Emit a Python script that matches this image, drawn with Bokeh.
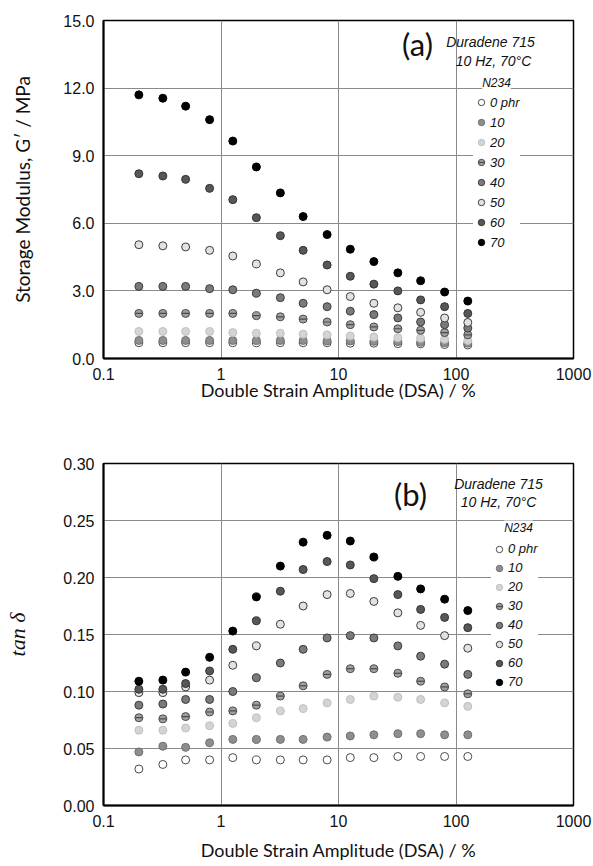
from bokeh.plotting import figure
from bokeh.layouts import column
from bokeh.models import (Range1d, FixedTicker, CustomJSTickFormatter, NumeralTickFormatter,
                          Legend, LegendItem, Label)
from bokeh.embed import file_html
from bokeh.resources import INLINE

# ---------------- data ----------------
strain = [0.2, 0.32, 0.5, 0.8, 1.26, 2.0, 3.2, 5.0, 8.0, 12.6, 20, 32, 50, 80, 126]
phr_labels = ["0 phr", "10", "20", "30", "40", "50", "60", "70"]

# Storage modulus G' (MPa), panel (a)
g_0 = [0.70, 0.70, 0.70, 0.70, 0.70, 0.70, 0.70, 0.70, 0.70, 0.68, 0.68, 0.66, 0.65, 0.62, 0.60]
g_10 = [0.80, 0.80, 0.80, 0.80, 0.80, 0.80, 0.80, 0.80, 0.78, 0.78, 0.76, 0.75, 0.72, 0.70, 0.68]
g_20 = [1.20, 1.20, 1.20, 1.20, 1.15, 1.12, 1.12, 1.08, 1.05, 1.00, 0.95, 0.92, 0.90, 0.85, 0.80]
g_30 = [2.00, 2.00, 2.00, 2.00, 2.00, 1.90, 1.85, 1.75, 1.62, 1.50, 1.40, 1.32, 1.25, 1.15, 1.05]
g_40 = [3.20, 3.20, 3.20, 3.10, 3.05, 2.90, 2.70, 2.45, 2.30, 2.10, 1.95, 1.80, 1.62, 1.50, 1.35]
g_50 = [5.05, 5.00, 4.95, 4.80, 4.55, 4.20, 3.80, 3.40, 3.05, 2.75, 2.45, 2.25, 2.05, 1.80, 1.60]
g_60 = [8.20, 8.10, 7.95, 7.55, 7.05, 6.25, 5.45, 4.80, 4.15, 3.65, 3.30, 3.00, 2.60, 2.30, 2.00]
g_70 = [11.70, 11.55, 11.20, 10.60, 9.65, 8.50, 7.35, 6.30, 5.50, 4.85, 4.30, 3.80, 3.45, 2.95, 2.55]

# tan delta, panel (b)
t_0 = [0.032, 0.036, 0.040, 0.040, 0.042, 0.040, 0.040, 0.040, 0.040, 0.042, 0.042, 0.043, 0.043, 0.043, 0.043]
t_10 = [0.047, 0.052, 0.051, 0.055, 0.058, 0.058, 0.058, 0.058, 0.060, 0.061, 0.062, 0.063, 0.063, 0.062, 0.062]
t_20 = [0.066, 0.066, 0.068, 0.070, 0.072, 0.077, 0.083, 0.085, 0.090, 0.093, 0.096, 0.095, 0.093, 0.090, 0.087]
t_30 = [0.077, 0.076, 0.078, 0.082, 0.083, 0.088, 0.096, 0.105, 0.115, 0.120, 0.120, 0.116, 0.109, 0.104, 0.098]
t_40 = [0.088, 0.089, 0.093, 0.093, 0.100, 0.112, 0.125, 0.137, 0.147, 0.149, 0.147, 0.140, 0.131, 0.124, 0.115]
t_50 = [0.099, 0.099, 0.104, 0.110, 0.123, 0.140, 0.159, 0.175, 0.185, 0.186, 0.179, 0.169, 0.158, 0.149, 0.138]
t_60 = [0.102, 0.102, 0.107, 0.118, 0.137, 0.162, 0.188, 0.207, 0.214, 0.211, 0.199, 0.185, 0.172, 0.165, 0.156]
t_70 = [0.109, 0.110, 0.117, 0.130, 0.153, 0.183, 0.210, 0.231, 0.237, 0.232, 0.218, 0.201, 0.190, 0.181, 0.171]

g_series = [g_0, g_10, g_20, g_30, g_40, g_50, g_60, g_70]
t_series = [t_0, t_10, t_20, t_30, t_40, t_50, t_60, t_70]

x_ticks = [0.1, 1, 10, 100, 1000]
g_ticks = [0, 3, 6, 9, 12, 15]
t_ticks = [0, 0.05, 0.10, 0.15, 0.20, 0.25, 0.30]

# marker styles: (fill, line, has horizontal bar)
styles = [
    ("#ffffff", "#4a4a4a", False),
    ("#8e8e8e", "#707070", False),
    ("#d4d4d4", "#c0c0c0", False),
    ("#a0a0a0", "#4a4a4a", True),
    ("#7a7a7a", "#3c3c3c", False),
    ("#e2e2e2", "#3c3c3c", False),
    ("#575757", "#333333", False),
    ("#000000", "#000000", False),
]

TICK_FONT = "Liberation Sans"
LABEL_FONT = "Lato"


def make_panel(series, y_end, y_grid, y_fmt, ylabel, ylabel_font, ylabel_style, ylabel_size,
               fheight, border_top, border_bottom, xlab_standoff, ylab_standoff,
               legend_loc, label_h, tag, tag_pos, info_pos1, info_pos2, n234_pos):
    p = figure(x_axis_type="log", x_range=Range1d(0.1, 1000), y_range=Range1d(0, y_end),
               frame_width=470, frame_height=fheight,
               min_border_left=103, min_border_right=20,
               min_border_top=border_top, min_border_bottom=border_bottom,
               output_backend="svg", toolbar_location=None)
    p.background_fill_color = "white"
    p.border_fill_color = "white"
    p.outline_line_color = "black"
    p.outline_line_width = 1.5

    p.xaxis.ticker = FixedTicker(ticks=x_ticks)
    p.xaxis.formatter = CustomJSTickFormatter(code="return tick.toString()")
    p.yaxis.ticker = FixedTicker(ticks=y_grid)
    p.yaxis.formatter = NumeralTickFormatter(format=y_fmt)
    for ax in (p.xaxis[0], p.yaxis[0]):
        ax.axis_line_color = "black"
        ax.axis_line_width = 2
        ax.major_tick_line_color = None
        ax.minor_tick_line_color = None
        ax.major_label_text_font = TICK_FONT
        ax.major_label_text_font_size = "16px"
        ax.major_label_text_color = "#111111"
        ax.major_label_standoff = 3
    p.xaxis.axis_label = "Double Strain Amplitude (DSA) / %"
    p.xaxis.axis_label_text_font = LABEL_FONT
    p.xaxis.axis_label_text_font_style = "normal"
    p.xaxis.axis_label_text_font_size = "18px"
    p.xaxis.axis_label_text_color = "#111111"
    p.xaxis.axis_label_standoff = xlab_standoff
    p.yaxis.axis_label = ylabel
    p.yaxis.axis_label_text_font = ylabel_font
    p.yaxis.axis_label_text_font_style = ylabel_style
    p.yaxis.axis_label_text_font_size = ylabel_size
    p.yaxis.axis_label_text_color = "#111111"
    p.yaxis.axis_label_standoff = ylab_standoff

    p.xgrid.ticker = FixedTicker(ticks=[1, 10, 100])
    p.ygrid.ticker = FixedTicker(ticks=[v for v in y_grid if 0 < v < y_end])
    p.xgrid.grid_line_color = "#8a8a8a"
    p.ygrid.grid_line_color = "#8a8a8a"
    p.xgrid.grid_line_width = 1
    p.ygrid.grid_line_width = 1

    items = []
    for lab, ys, (fc, lc, bar) in zip(phr_labels, series, styles):
        rs = [p.scatter(strain, ys, marker="circle", size=8, fill_color=fc, line_color=lc,
                        line_width=1)]
        if bar:
            rs.append(p.scatter(strain, ys, marker="dash", size=7, line_color=lc, line_width=1.2))
        items.append(LegendItem(label=lab, renderers=rs))

    legend = Legend(items=items, location=legend_loc, background_fill_color="white",
                    background_fill_alpha=1.0, border_line_color=None,
                    label_text_font=TICK_FONT, label_text_font_style="italic",
                    label_text_font_size="13px", label_text_color="#111111",
                    glyph_width=16, glyph_height=16, label_standoff=1, padding=2,
                    spacing=0, margin=0, label_height=label_h)
    p.add_layout(legend)

    p.add_layout(Label(x=tag_pos[0], y=tag_pos[1], x_units="screen", y_units="screen",
                       text=tag, text_font=LABEL_FONT, text_font_size="31px",
                       text_align="center", text_baseline="middle", text_color="#111111"))
    p.add_layout(Label(x=info_pos1[0], y=info_pos1[1], x_units="screen", y_units="screen",
                       text="Duradene 715", text_font=TICK_FONT, text_font_style="italic",
                       text_font_size="14px", text_align="center", text_baseline="middle",
                       text_color="#111111"))
    p.add_layout(Label(x=info_pos2[0], y=info_pos2[1], x_units="screen", y_units="screen",
                       text="10 Hz, 70°C", text_font=TICK_FONT, text_font_style="italic",
                       text_font_size="14px", text_align="center", text_baseline="middle",
                       text_color="#111111"))
    p.add_layout(Label(x=n234_pos[0], y=n234_pos[1], x_units="screen", y_units="screen",
                       text="N234", text_font=TICK_FONT, text_font_style="italic",
                       text_font_size="12px", text_align="center", text_baseline="middle",
                       text_color="#111111", background_fill_color="white",
                       background_fill_alpha=1.0))
    return p


pa = make_panel(g_series, 15, g_ticks, "0.0", "Storage Modulus, G′ / MPa", LABEL_FONT, "normal",
                "19px", 338, 20, 72, -4, 26, (370, 106), 20, "(a)", (314, 315), (387, 317),
                (390, 298), (393, 276))
pb = make_panel(t_series, 0.30, t_ticks, "0.00", "tan δ", "Liberation Serif", "italic",
                "22px", 342, 33, 61, 9, 30, (388, 114), 19, "(b)", (307, 312), (395, 322),
                (395, 304), (415, 278))

layout = column(pa, pb, spacing=0)
open("out.html", "w").write(file_html(layout, INLINE))
